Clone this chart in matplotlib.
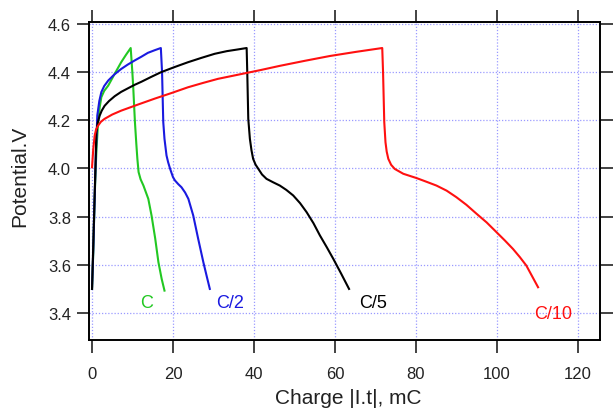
import matplotlib
matplotlib.use("Agg")
import matplotlib.pyplot as plt

plt.rcParams['font.family'] = ['Liberation Sans', 'DejaVu Sans']

# C rate
c1_x = [0, 0.3, 0.55, 0.8, 1.1, 1.5, 1.9, 2.3, 3.0, 4.0, 5.6, 7.2, 8.4, 9.55, 9.96, 10.2, 10.4, 10.6, 10.95, 11.2, 11.5, 12.0, 12.7, 13.9, 14.7, 15.6, 16.4, 17.2, 17.9]
c1_y = [3.5, 3.65, 3.82, 3.957, 4.08, 4.19, 4.255, 4.296, 4.322, 4.344, 4.393, 4.441, 4.472, 4.5, 4.4, 4.33, 4.26, 4.192, 4.10, 4.04, 3.985, 3.955, 3.929, 3.874, 3.805, 3.71, 3.611, 3.542, 3.493]
# C/2
c2_x = [0, 0.3, 0.6, 0.9, 1.3, 1.8, 2.3, 3.0, 4.0, 5.5, 7.2, 8.8, 10.5, 12.2, 13.8, 15.5, 17.0, 17.3, 17.5, 17.6, 17.9, 18.4, 18.8, 19.3, 20.0, 20.5, 21.3, 22.1, 23.0, 23.8, 25.0, 26.2, 27.5, 28.3, 29.1]
c2_y = [3.5, 3.66, 3.85, 4.03, 4.22, 4.28, 4.317, 4.342, 4.365, 4.39, 4.413, 4.431, 4.448, 4.464, 4.48, 4.491, 4.5, 4.4, 4.26, 4.192, 4.123, 4.054, 4.026, 3.998, 3.964, 3.950, 3.935, 3.922, 3.90, 3.874, 3.805, 3.71, 3.611, 3.555, 3.5]
# C/5
c5_x = [0, 0.3, 0.6, 0.85, 1.07, 1.4, 1.9, 2.4, 3.1, 4.2, 5.6, 7.2, 8.9, 10.5, 12.2, 14.6, 17.1, 20.4, 23.7, 27.0, 30.3, 33.3, 36.0, 38.2, 38.35, 38.6, 39.0, 39.4, 39.8, 40.4, 41.1, 42.0, 43.1, 44.7, 46.4, 48.0, 49.7, 51.4, 53.0, 54.7, 56.3, 58.0, 59.6, 61.5, 63.5]
c5_y = [3.5, 3.68, 3.86, 4.01, 4.15, 4.19, 4.22, 4.24, 4.26, 4.28, 4.30, 4.318, 4.333, 4.347, 4.36, 4.38, 4.40, 4.421, 4.441, 4.459, 4.476, 4.487, 4.494, 4.5, 4.4, 4.206, 4.123, 4.075, 4.04, 4.016, 3.998, 3.975, 3.957, 3.943, 3.929, 3.911, 3.888, 3.856, 3.819, 3.773, 3.722, 3.673, 3.625, 3.565, 3.5]
# C/10
c10_x = [0, 0.3, 0.66, 1.0, 1.5, 2.2, 3.1, 5.0, 7.2, 11.3, 15.5, 19.6, 23.7, 27.4, 31.1, 36.3, 41.5, 46.4, 52.6, 58.8, 65.2, 71.7, 71.9, 72.2, 72.5, 72.8, 73.2, 73.9, 74.8, 76.9, 80.2, 82.6, 85.1, 87.6, 90.0, 92.5, 95.0, 97.5, 99.9, 102.0, 104.0, 105.7, 107.3, 110.2]
c10_y = [4.005, 4.08, 4.137, 4.162, 4.178, 4.194, 4.206, 4.224, 4.24, 4.265, 4.29, 4.313, 4.337, 4.355, 4.372, 4.39, 4.408, 4.426, 4.447, 4.467, 4.484, 4.5, 4.4, 4.192, 4.109, 4.07, 4.04, 4.015, 3.998, 3.978, 3.96, 3.945, 3.929, 3.908, 3.881, 3.849, 3.812, 3.776, 3.736, 3.701, 3.666, 3.632, 3.597, 3.507]

labels = ["C", "C/2", "C/5", "C/10"]
label_x = [13.5, 34.1, 69.5, 113.9]
label_y = [3.445, 3.445, 3.445, 3.40]
colors = ["#22c822", "#1a1ae0", "#000000", "#ff1010"]

x_ticks = [0, 20, 40, 60, 80, 100, 120]
y_ticks = [3.4, 3.6, 3.8, 4.0, 4.2, 4.4, 4.6]

fig = plt.figure(figsize=(6.13, 4.14), dpi=100)
ax = fig.add_axes([89/613, 1-341/414, (600-89)/613, (341-23)/414])

series = [(c1_x, c1_y), (c2_x, c2_y), (c5_x, c5_y), (c10_x, c10_y)]
for (xs, ys), col in zip(series, colors):
    ax.plot(xs, ys, color=col, lw=1.5, zorder=3, solid_joinstyle='round')
for t, tx, ty, col in zip(labels, label_x, label_y, colors):
    ax.text(tx, ty, t, color=col, fontsize=13, ha='center', va='center')

ax.set_xlim(-0.75, 125.5)
ax.set_ylim(3.288, 4.608)
ax.set_xticks(x_ticks)
ax.set_yticks(y_ticks)
ax.set_yticklabels([f"{v:.1f}" for v in y_ticks])
ax.grid(True, color="#9a9aff", linestyle=(0, (1, 1.5)), lw=0.9)
ax.tick_params(direction='out', length=9, width=1.2, labelsize=12, colors='#222222',
               top=True, right=True, labeltop=False, labelright=False)
ax.tick_params(axis='x', pad=10)
ax.tick_params(axis='y', pad=4)
for s in ax.spines.values():
    s.set_linewidth(1.4)

fig.text(20/613, 1-176/414, "Potential.V", rotation=90, ha='center', va='center', fontsize=15, color='#222222')
fig.text(348/613, 1-399/414, "Charge |I.t|, mC", ha='center', va='center', fontsize=15, color='#222222')

fig.savefig("out.png", dpi=100)
